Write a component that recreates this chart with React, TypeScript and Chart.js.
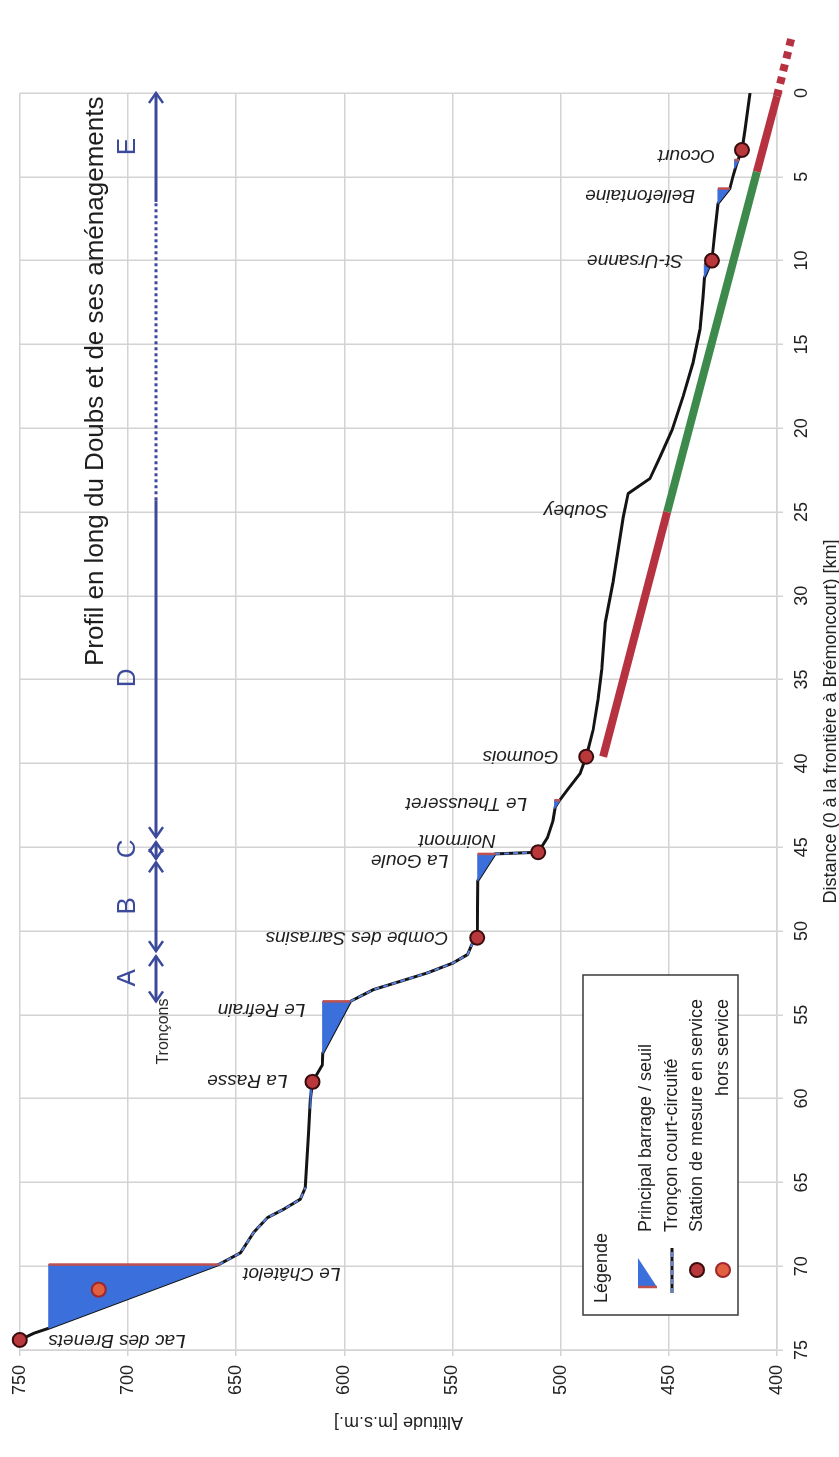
import React, { useEffect, useRef } from 'react';
import { Chart, registerables } from 'chart.js';

Chart.register(...registerables);

const FONT = '"Liberation Sans", Arial, Helvetica, sans-serif';
const W = 1457;
const H = 839;

// ---- Data -------------------------------------------------------------
const TITLE = 'Profil en long du Doubs et de ses aménagements';
const X_TITLE = 'Distance (0 à la frontière à Brémoncourt) [km]';
const Y_TITLE = 'Altitude [m.s.m.]';

const xMin = 0;
const xMax = 75;
const xStep = 5;
const yMin = 400;
const yMax = 750;
const yStep = 50;

// River bed profile (km from border, altitude m)
const profileKm = [74.4, 74.0, 73.7, 69.9, 69.2, 68.0, 67.1, 66.6, 66.0, 65.3, 62.1, 60.1, 59.0, 58.0, 57.3, 54.2, 53.5, 53.0, 52.5, 51.9, 51.4, 50.8, 50.4, 47.0, 45.4, 45.3, 44.4, 43.4, 42.6, 42.2, 41.6, 40.6, 39.6, 38.0, 36.2, 34.4, 31.6, 29.2, 25.3, 23.9, 23.0, 21.7, 20.1, 18.1, 16.1, 14.1, 12.2, 11.0, 10.0, 8.2, 6.6, 5.7, 5.0, 4.2, 3.4, 2.2, 0.0];
const profileAlt = [750.0, 743.5, 736.6, 658.0, 648.0, 642.0, 635.5, 628.0, 620.3, 618.0, 616.6, 615.7, 614.7, 610.2, 610.0, 597.2, 586.6, 574.0, 561.6, 549.6, 543.0, 541.0, 538.6, 538.3, 530.3, 510.4, 506.0, 503.5, 502.5, 500.5, 497.0, 491.0, 488.2, 485.0, 482.7, 481.0, 479.4, 475.8, 471.1, 468.8, 458.7, 454.0, 448.5, 443.4, 438.8, 435.6, 434.2, 433.5, 430.1, 428.7, 427.3, 421.8, 420.4, 418.6, 416.2, 414.8, 412.5];

// Short-circuited reaches (from km, to km)
const bypassFromKm = [69.9, 54.2, 45.4];
const bypassToKm = [65.3, 50.4, 45.3];

// Dams / weirs
const damReservoirKm = [73.7, 60.6, 57.3, 47.0, 42.7, 11.0, 6.6, 4.5];
const damKm = [69.9, 59.2, 54.2, 45.4, 42.2, 10.2, 5.7, 4.0];
const damCrestAlt = [736.6, 615.8, 610.0, 538.3, 502.8, 433.6, 427.3, 419.6];
const damFootAlt = [658.0, 614.9, 597.2, 530.3, 500.3, 430.6, 421.8, 417.6];

// Measuring stations
const stationKm = [74.4, 59.0, 50.4, 45.3, 39.6, 10.0, 3.4];
const stationAlt = [750.0, 614.7, 538.6, 510.4, 488.2, 430.1, 416.2];
const offStationKm = [71.4];
const offStationAlt = [713.5];

// Place labels (vertical text starting at label altitude)
const placeNames = ['Lac des Brenets', 'Le Châtelot', 'La Rasse', 'Le Refrain', 'Combe des Sarrasins', 'La Goule', 'Noirmont', 'Le Theusseret', 'Goumois', 'Soubey', 'St-Ursanne', 'Bellefontaine', 'Ocourt'];
const placeKm = [74.4, 70.4, 58.9, 54.7, 50.4, 45.8, 44.6, 42.4, 39.6, 24.9, 10.0, 6.1, 3.7];
const placeLabelAlt = [673.4, 601.8, 626.3, 618.0, 552.0, 552.0, 530.0, 515.5, 501.0, 478.0, 443.4, 437.9, 428.7];

// Thick reference line (red / green / red / dotted red)
const refLineKm = [39.6, 25.0, 4.7, 0.2, -3.3];
const refLineAlt = [480.4, 450.8, 409.3, 400.0, 393.3];
const refLineStyle = ['red', 'green', 'red', 'dotted'];

// Tronçons
const tronconNames = ['A', 'B', 'C', 'D', 'E'];
const tronconLabelKm = [52.8, 48.5, 45.1, 34.9, 3.2];
const tronconArrowFromKm = [54.2, 51.2, 45.7, 44.4];
const tronconArrowToKm = [51.5, 45.9, 44.7, 0.0];
const tronconDottedKm = [24.3, 6.5];
const tronconLineAlt = 687;
const tronconLabelAlt = 700;
const tronconTitleKm = 56.0;
const tronconTitleAlt = 683.5;

const titleKm = 17.2;
const titleAlt = 715;

// ---- Styles ------------------------------------------------------------
const GRID = '#d3d3d3';
const BLUE = '#3b6fdb';
const DAM_RED = '#c0504d';
const RED = '#b73241';
const GREEN = '#3e8a4d';
const NAVY = '#3c4a9c';
const ST_FILL = '#b8383c';
const ST_BORDER = '#3a0c0e';
const OFF_FILL = '#e0603f';
const OFF_BORDER = '#a0262c';

const pts = (xs: number[], ys: number[]) => xs.map((v, i) => ({ x: v, y: ys[i] }));

function buildDatasets() {
  const ds: any[] = [];
  ds.push({
    data: pts(stationKm, stationAlt), showLine: false, pointRadius: 7,
    pointBackgroundColor: ST_FILL, pointBorderColor: ST_BORDER, pointBorderWidth: 2, clip: false,
  });
  ds.push({
    data: pts(offStationKm, offStationAlt), showLine: false, pointRadius: 7,
    pointBackgroundColor: OFF_FILL, pointBorderColor: OFF_BORDER, pointBorderWidth: 2, clip: false,
  });
  damKm.forEach((d, i) => {
    ds.push({
      data: [{ x: d, y: damCrestAlt[i] }, { x: d, y: damFootAlt[i] }],
      borderColor: DAM_RED, borderWidth: 2.5, pointRadius: 0, fill: false,
    });
  });
  damKm.forEach((d, i) => {
    ds.push({
      data: [
        { x: damReservoirKm[i], y: damCrestAlt[i] },
        { x: d, y: damCrestAlt[i] },
        { x: d, y: damFootAlt[i] },
        { x: damReservoirKm[i], y: damCrestAlt[i] },
      ],
      borderColor: BLUE, borderWidth: 1, backgroundColor: BLUE, pointRadius: 0, fill: 'shape',
    });
  });
  bypassFromKm.forEach((from, i) => {
    const to = bypassToKm[i];
    const data = profileKm
      .map((k, j) => ({ x: k, y: profileAlt[j] }))
      .filter((p) => p.x <= from + 1e-6 && p.x >= to - 1e-6);
    ds.push({ data, borderColor: '#5b80e0', borderWidth: 2, borderDash: [5, 4], pointRadius: 0, fill: false });
  });
  ds.push({ data: pts(profileKm, profileAlt), borderColor: '#141414', borderWidth: 3, pointRadius: 0, fill: false, borderJoinStyle: 'round' });
  refLineStyle.forEach((s, i) => {
    ds.push({
      data: [{ x: refLineKm[i], y: refLineAlt[i] }, { x: refLineKm[i + 1], y: refLineAlt[i + 1] }],
      borderColor: s === 'green' ? GREEN : RED,
      borderWidth: 8,
      borderDash: s === 'dotted' ? [7, 6] : [],
      borderCapStyle: 'butt',
      pointRadius: 0, fill: false, clip: false,
    });
  });
  return ds;
}

function arrowHead(ctx: CanvasRenderingContext2D, x: number, y: number, dir: number) {
  ctx.beginPath();
  ctx.moveTo(x - dir * 10, y - 7);
  ctx.lineTo(x, y);
  ctx.lineTo(x - dir * 10, y + 7);
  ctx.stroke();
}

function drawMarker(ctx: CanvasRenderingContext2D, x: number, y: number, fill: string, border: string) {
  ctx.beginPath();
  ctx.arc(x, y, 7, 0, Math.PI * 2);
  ctx.fillStyle = fill;
  ctx.fill();
  ctx.lineWidth = 2;
  ctx.strokeStyle = border;
  ctx.stroke();
}

const annotationsPlugin = {
  id: 'doubsAnnotations',
  afterDatasetsDraw(chart: any) {
    const ctx: CanvasRenderingContext2D = chart.ctx;
    const xs = chart.scales.x;
    const ys = chart.scales.y;
    const X = (v: number) => xs.getPixelForValue(v);
    const Y = (v: number) => ys.getPixelForValue(v);
    ctx.save();

    // Title
    ctx.fillStyle = '#1e1e1e';
    ctx.font = `26px ${FONT}`;
    ctx.textAlign = 'center';
    ctx.textBaseline = 'middle';
    ctx.fillText(TITLE, X(titleKm), Y(titleAlt));

    // Place labels (vertical)
    ctx.font = `italic 19px ${FONT}`;
    ctx.textAlign = 'left';
    ctx.fillStyle = '#1e1e1e';
    placeNames.forEach((n, i) => {
      ctx.save();
      ctx.translate(X(placeKm[i]), Y(placeLabelAlt[i]));
      ctx.rotate(-Math.PI / 2);
      ctx.fillText(n, 0, 0);
      ctx.restore();
    });

    // Tronçons
    ctx.font = `16px ${FONT}`;
    ctx.textAlign = 'center';
    ctx.fillStyle = '#2a2a2a';
    ctx.fillText('Tronçons', X(tronconTitleKm), Y(tronconTitleAlt));

    ctx.strokeStyle = NAVY;
    ctx.lineWidth = 3;
    ctx.lineCap = 'butt';
    const yl = Y(tronconLineAlt);
    tronconArrowFromKm.forEach((from, i) => {
      const to = tronconArrowToKm[i];
      const x1 = X(from);
      const x2 = X(to);
      const last = i === tronconArrowFromKm.length - 1;
      ctx.setLineDash([]);
      if (last) {
        const d1 = X(tronconDottedKm[0]);
        const d2 = X(tronconDottedKm[1]);
        ctx.beginPath(); ctx.moveTo(x1, yl); ctx.lineTo(d1, yl); ctx.stroke();
        ctx.setLineDash([3, 3]);
        ctx.beginPath(); ctx.moveTo(d1, yl); ctx.lineTo(d2, yl); ctx.stroke();
        ctx.setLineDash([]);
        ctx.beginPath(); ctx.moveTo(d2, yl); ctx.lineTo(x2, yl); ctx.stroke();
      } else {
        ctx.beginPath(); ctx.moveTo(x1, yl); ctx.lineTo(x2, yl); ctx.stroke();
      }
      ctx.lineWidth = 2.5;
      arrowHead(ctx, x1, yl, -1);
      arrowHead(ctx, x2, yl, 1);
      ctx.lineWidth = 3;
    });
    ctx.font = `26px ${FONT}`;
    ctx.fillStyle = NAVY;
    ctx.textAlign = 'center';
    tronconNames.forEach((n, i) => {
      ctx.fillText(n, X(tronconLabelKm[i]), Y(tronconLabelAlt));
    });

    // Legend box
    const bx0 = 142, bx1 = 482, by0 = 583, by1 = 738;
    ctx.setLineDash([]);
    ctx.fillStyle = '#ffffff';
    ctx.fillRect(bx0, by0, bx1 - bx0, by1 - by0);
    ctx.strokeStyle = '#3a3a3a';
    ctx.lineWidth = 1.5;
    ctx.strokeRect(bx0, by0, bx1 - bx0, by1 - by0);

    ctx.font = `18px ${FONT}`;
    ctx.fillStyle = '#1e1e1e';
    ctx.textAlign = 'left';
    ctx.textBaseline = 'middle';
    ctx.fillText('Légende', 154, 602);

    // row 1: dam icon
    ctx.beginPath();
    ctx.moveTo(170, 638); ctx.lineTo(199, 638); ctx.lineTo(170, 657); ctx.closePath();
    ctx.fillStyle = BLUE; ctx.fill();
    ctx.strokeStyle = DAM_RED; ctx.lineWidth = 2.5;
    ctx.beginPath(); ctx.moveTo(170, 638); ctx.lineTo(170, 657); ctx.stroke();
    ctx.fillStyle = '#1e1e1e';
    ctx.fillText('Principal barrage / seuil', 225, 646);

    // row 2: bypass reach
    ctx.strokeStyle = '#141414'; ctx.lineWidth = 3;
    ctx.beginPath(); ctx.moveTo(164, 672); ctx.lineTo(209, 672); ctx.stroke();
    ctx.strokeStyle = '#5b80e0'; ctx.lineWidth = 2; ctx.setLineDash([5, 4]);
    ctx.beginPath(); ctx.moveTo(164, 672); ctx.lineTo(209, 672); ctx.stroke();
    ctx.setLineDash([]);
    ctx.fillText('Tronçon court-circuité', 225, 672);

    // row 3 / 4: stations
    drawMarker(ctx, 187, 697, ST_FILL, ST_BORDER);
    drawMarker(ctx, 187, 723, OFF_FILL, OFF_BORDER);
    ctx.fillStyle = '#1e1e1e';
    const row3 = 'Station de mesure en service';
    ctx.fillText(row3, 225, 697);
    const endX = 225 + ctx.measureText(row3).width;
    ctx.textAlign = 'right';
    ctx.fillText('hors service', endX, 723);

    ctx.restore();
  },
};

export default function App() {
  const ref = useRef<HTMLCanvasElement>(null);
  useEffect(() => {
    const canvas = ref.current;
    if (!canvas) return;
    Chart.defaults.font.family = FONT;
    Chart.defaults.color = '#222';
    const chart = new Chart(canvas, {
      type: 'line',
      data: { datasets: buildDatasets() },
      options: {
        responsive: false,
        maintainAspectRatio: false,
        animation: false,
        events: [],
        layout: { padding: { left: 20, right: 93, top: 19, bottom: 0 } },
        plugins: { legend: { display: false }, tooltip: { enabled: false }, title: { display: false } },
        elements: { line: { tension: 0 }, point: { radius: 0 } },
        scales: {
          x: {
            type: 'linear',
            reverse: true,
            min: xMin,
            max: xMax,
            ticks: { stepSize: xStep, font: { size: 18 }, color: '#222', padding: 8, maxRotation: 0 },
            grid: { color: GRID, lineWidth: 1.5, tickLength: 6 },
            border: { color: GRID, width: 1.5 },
            title: { display: true, text: X_TITLE, font: { size: 18, lineHeight: 0.9 }, padding: 0, color: '#222' },
            afterFit: (s: any) => { s.height = 62; },
          },
          y: {
            type: 'linear',
            min: yMin,
            max: yMax,
            ticks: { stepSize: yStep, font: { size: 18 }, color: '#222', padding: 9 },
            grid: { color: GRID, lineWidth: 1.5, tickLength: 6 },
            border: { color: GRID, width: 1.5 },
            title: { display: true, text: Y_TITLE, font: { size: 18 }, color: '#222' },
            afterFit: (s: any) => { s.width = 87; },
          },
        },
      } as any,
      plugins: [annotationsPlugin],
    });
    return () => chart.destroy();
  }, []);

  return (
    <div
      style={{
        position: 'fixed',
        left: 0,
        top: 0,
        width: W,
        height: H,
        transformOrigin: '0 0',
        transform: `translate(0px, ${W}px) rotate(-90deg)`,
        background: '#ffffff',
      }}
    >
      <canvas ref={ref} width={W} height={H} style={{ display: 'block', width: W, height: H }} />
    </div>
  );
}
